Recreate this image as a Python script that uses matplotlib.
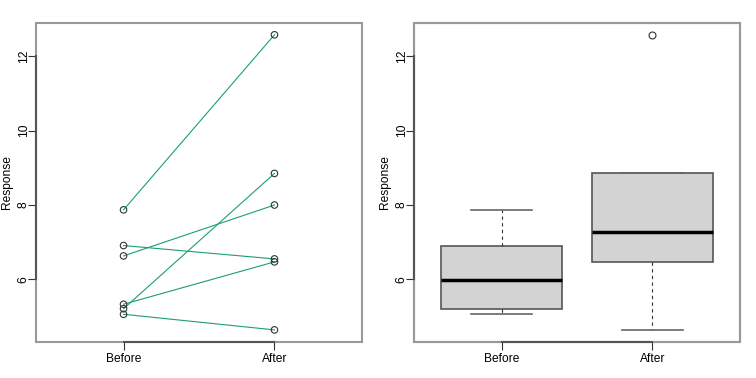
import numpy as np
import matplotlib
matplotlib.use("Agg")
import matplotlib.pyplot as plt
from matplotlib.patches import Rectangle

plt.rcParams['font.family'] = ['Liberation Sans', 'DejaVu Sans']

groups = ["Before", "After"]
before = [7.87, 6.91, 6.63, 5.21, 5.33, 5.06]
after = [12.58, 6.55, 8.00, 8.85, 6.47, 4.64]
yticks = [6, 8, 10, 12]
line_color = "#1B9E77"
box_fill = "#D3D3D3"

W, H = 756, 378
fig = plt.figure(figsize=(W / 100, H / 100), dpi=100)

FS = 8.64
frame_col = "#999999"
axis_col = "#555555"


def setup(ax):
    ax.set_xlim(0.42, 2.58)
    allv = before + after
    r = max(allv) - min(allv)
    ax.set_ylim(min(allv) - 0.04 * r, max(allv) + 0.04 * r)
    for s in ax.spines.values():
        s.set_visible(False)
    ax.add_patch(Rectangle((0, 0), 1, 1, transform=ax.transAxes, fill=False,
                           edgecolor=frame_col, lw=1.5, zorder=0.5, clip_on=False))
    ax.spines['left'].set_visible(True)
    ax.spines['bottom'].set_visible(True)
    ax.spines['left'].set_bounds(yticks[0], yticks[-1])
    ax.spines['bottom'].set_bounds(1, 2)
    ax.spines['left'].set_color(axis_col)
    ax.spines['bottom'].set_color(axis_col)
    ax.spines['left'].set_linewidth(1.5)
    ax.spines['bottom'].set_linewidth(1.5)
    ax.set_xticks([1, 2])
    ax.set_xticklabels(groups)
    ax.set_yticks(yticks)
    ax.set_yticklabels([str(t) for t in yticks], rotation=90, va='center')
    ax.tick_params(axis='both', length=6, width=0.8, color='#333333',
                   labelsize=FS, pad=2)
    ax.tick_params(axis='y', pad=-1.4)
    ax.set_ylabel("Response", fontsize=FS)
    ax.yaxis.set_label_coords(-0.0696, 0.5)


def px_axes(left, top, right, bottom):
    return fig.add_axes([left / W, 1 - bottom / H, (right - left) / W, (bottom - top) / H])


ax1 = px_axes(36, 23, 362, 341.7)
setup(ax1)
for b, a in zip(before, after):
    ax1.plot([1, 2], [b, a], color=line_color, lw=0.8, zorder=2)
ax1.scatter([1] * len(before) + [2] * len(after), before + after, s=22,
            facecolors='none', edgecolors='#333333', linewidths=0.8, zorder=3)

ax2 = px_axes(414, 23, 740, 341.7)
setup(ax2)


def fivenum(v):
    v = np.sort(np.asarray(v, float))
    n = len(v)
    n4 = np.floor((n + 3) / 2) / 2
    d = np.array([1, n4, (n + 1) / 2, n + 1 - n4, n]) - 1
    return 0.5 * (v[np.floor(d).astype(int)] + v[np.ceil(d).astype(int)])


stats = []
for name, v in zip(groups, [before, after]):
    mn, q1, med, q3, mx = fivenum(v)
    iqr = q3 - q1
    lo_f, hi_f = q1 - 1.5 * iqr, q3 + 1.5 * iqr
    inside = [x for x in v if lo_f <= x <= hi_f]
    stats.append(dict(med=med, q1=q1, q3=q3, whislo=min(inside), whishi=max(inside),
                      fliers=[x for x in v if x < lo_f or x > hi_f], label=name))

ax2.bxp(stats, positions=[1, 2], widths=0.8, capwidths=0.4, patch_artist=True,
        boxprops=dict(facecolor=box_fill, edgecolor='#555555', lw=1.2),
        medianprops=dict(color='black', lw=2.5),
        whiskerprops=dict(color='#333333', lw=0.8, linestyle=(0, (3, 3))),
        capprops=dict(color='#666666', lw=1.2),
        flierprops=dict(marker='o', markersize=5, markerfacecolor='none',
                        markeredgecolor='#333333', markeredgewidth=0.8))
setup(ax2)

fig.savefig("out.png", dpi=100)
